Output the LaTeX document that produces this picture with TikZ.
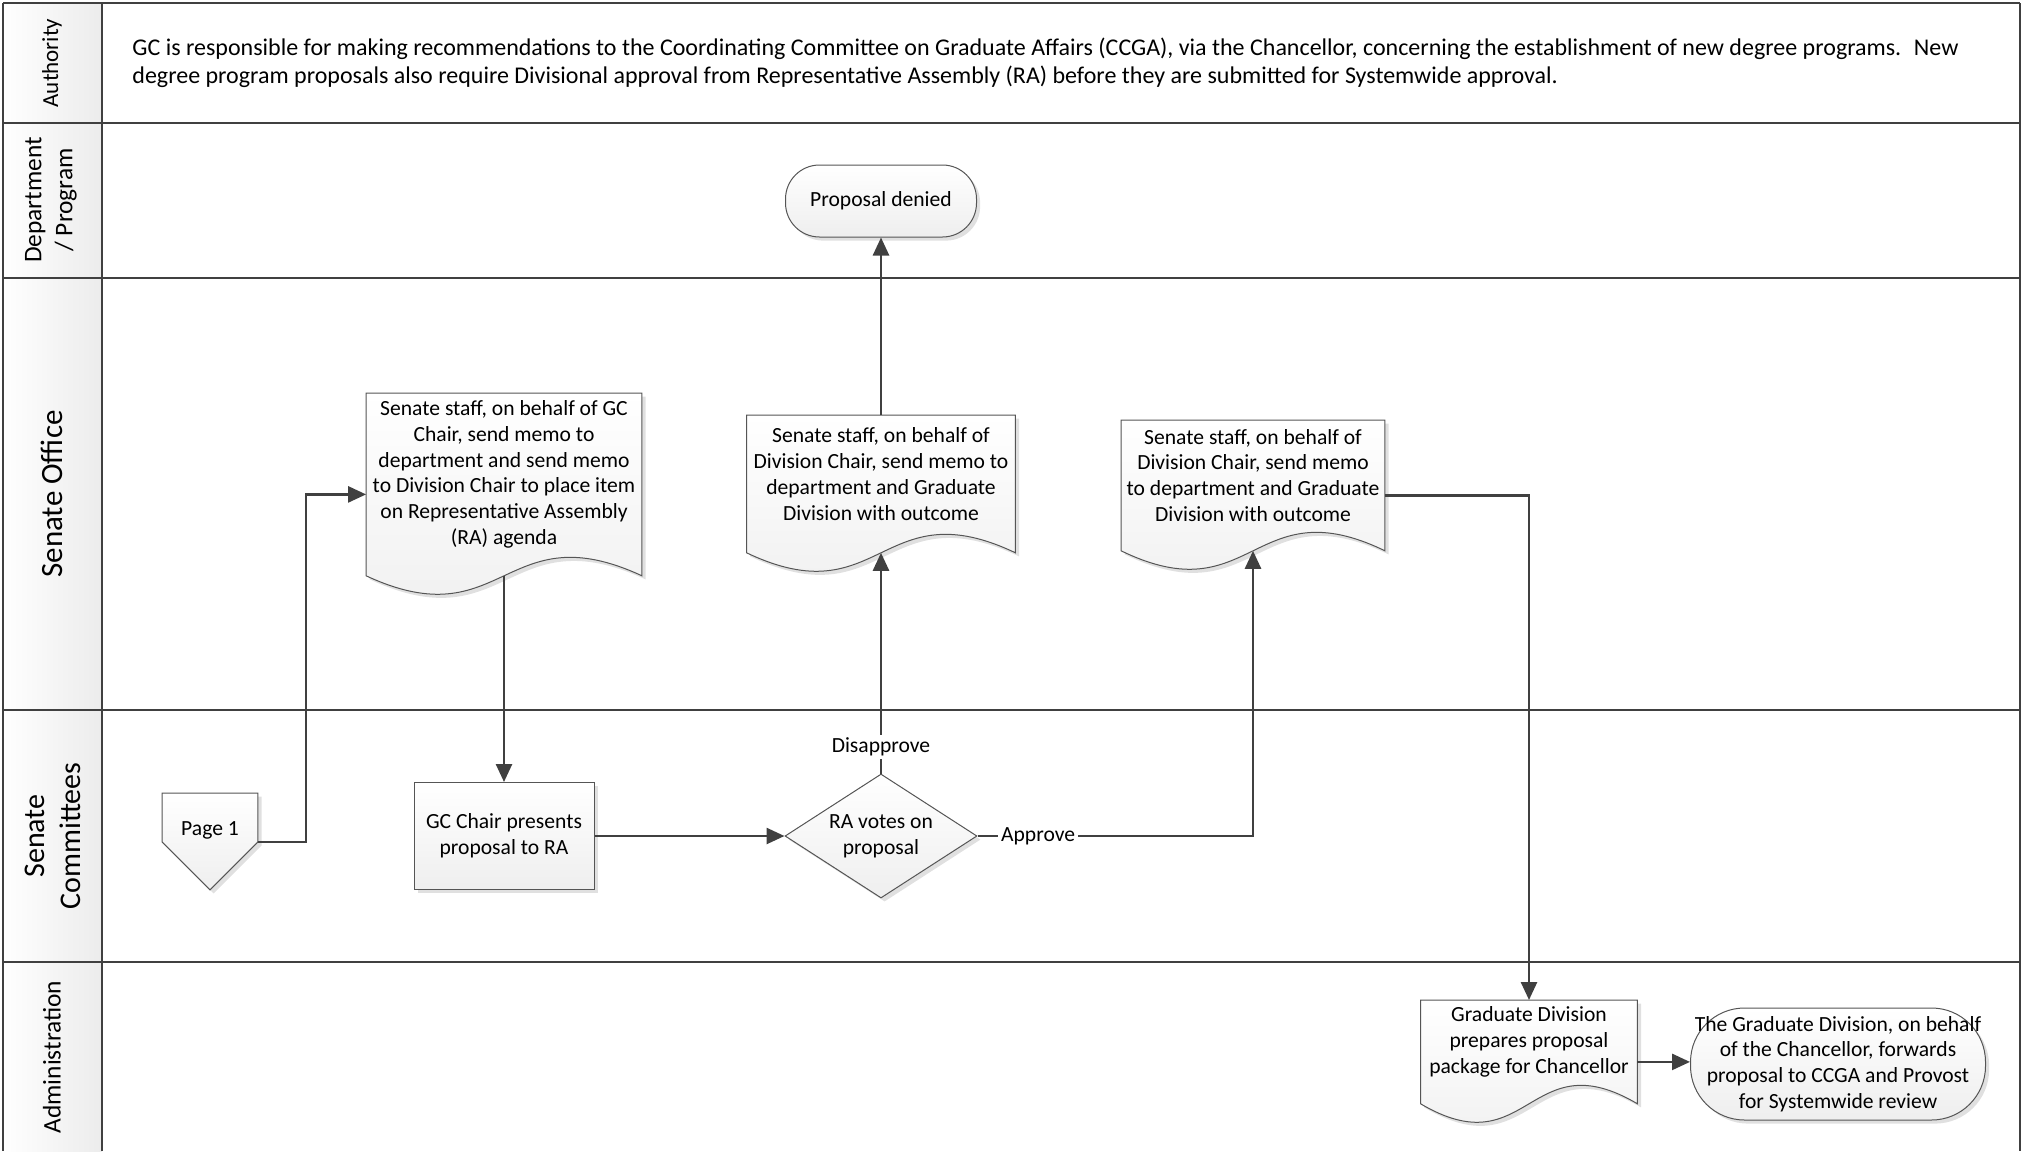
\documentclass[tikz,border=0pt]{standalone}
\usepackage{fontspec}
\setmainfont{Carlito}
\usetikzlibrary{positioning,shapes.geometric,arrows.meta,shadows,calc,backgrounds}

\definecolor{lanegray}{RGB}{64,64,64}
\definecolor{edgegray}{RGB}{85,85,85}

% wavy outline of a document node
\newcommand{\docoutline}[1]{%
  (#1.north west) -- ([yshift=-10pt]#1.south west)
  .. controls ($([yshift=-10pt]#1.south)+(0,-32pt)$) and ($([yshift=-10pt]#1.south)+(0,32pt)$) ..
  ([yshift=-10pt]#1.south east) -- (#1.north east) -- cycle}
\newcommand{\docshape}[1]{%
  \begin{pgfonlayer}{background}
    \path[box] \docoutline{#1};
  \end{pgfonlayer}
  \coordinate (#1-s) at ([yshift=-10pt]#1.south);
  \coordinate (#1-w) at ($(#1.north west)!0.5!([yshift=-20pt]#1.south west)$);
  \coordinate (#1-e) at ($(#1.north east)!0.5!([yshift=-20pt]#1.south east)$);}

\begin{document}
\begin{tikzpicture}[x=0.5pt,y=-0.5pt,
  every node/.style={font=\fontsize{10.8}{12.9}\selectfont},
  lane/.style={draw=lanegray, line width=1.2pt},
  lanelabel/.style={rotate=90, align=center, inner sep=0pt},
  box/.style={draw=edgegray, line width=0.5pt, top color=white, bottom color=gray!13,
    drop shadow={shadow xshift=1.8pt, shadow yshift=-1.8pt, fill=gray!40, opacity=0.6}},
  procbox/.style={box, rectangle, align=center, minimum width=90pt, minimum height=53.5pt},
  termbox/.style={box, rectangle, align=center},
  decbox/.style={box, diamond, aspect=1.55, align=center, inner sep=0pt, minimum width=96pt, minimum height=62pt},
  docnode/.style={rectangle, align=center, inner sep=1pt},
  flow/.style={draw=lanegray, line width=1.3pt, -{Triangle[length=9pt,width=8pt]}},
  flowlabel/.style={fill=white, inner sep=1.5pt}]
\useasboundingbox (0,0) rectangle (2023,1151);

% swimlanes
\fill[left color=white, right color=gray!15] (3,3) rectangle (102,1151);
\foreach \y in {3,123,278,710,962}
  \draw[lane] (3,\y) -- (2020,\y);
\foreach \x in {3,102,2020}
  \draw[lane] (\x,3) -- (\x,1151);

\node[lanelabel, font=\fontsize{11.5}{14}\selectfont] (authority) at (52,63) {Authority};
\node[lanelabel, font=\fontsize{12.7}{15.5}\selectfont] (dept) at (51,200) {Department\\/ Program};
\node[lanelabel, font=\fontsize{15.5}{18}\selectfont] (office) at (52,494) {Senate Office};
\node[lanelabel, font=\fontsize{15}{18}\selectfont] (committees) at (53,836) {Senate\\Committees};
\node[lanelabel, font=\fontsize{12.7}{15.5}\selectfont] (admin) at (52,1057) {Administration};

\node[anchor=west, align=left, inner sep=0pt, font=\fontsize{12}{14}\selectfont] (authtext) at (132,63)
  {GC is responsible for making recommendations to the Coordinating Committee on Graduate Affairs (CCGA), via the Chancellor, concerning the establishment of new degree programs.~ New\\
   degree program proposals also require Divisional approval from Representative Assembly (RA) before they are submitted for Systemwide approval.};

% steps
\node[termbox, minimum width=95.5pt, minimum height=36pt, rounded corners=17pt] (denied) at (881,201) {Proposal denied};

\node[docnode, anchor=north, minimum width=137.5pt, minimum height=81pt] (memo) at (504,393)
  {Senate staff, on behalf of GC\\Chair, send memo to\\department and send memo\\to Division Chair to place item\\on Representative Assembly\\(RA) agenda};
\docshape{memo}
\node[docnode, anchor=north, minimum width=134pt, minimum height=58.5pt] (deny) at (881,415)
  {Senate staff, on behalf of\\Division Chair, send memo to\\department and Graduate\\Division with outcome};
\docshape{deny}
\node[docnode, anchor=north, minimum width=131.5pt, minimum height=55pt] (approve) at (1253,420)
  {Senate staff, on behalf of\\Division Chair, send memo\\to department and Graduate\\Division with outcome};
\docshape{approve}

\node[rectangle, minimum width=47.5pt, minimum height=37pt, anchor=north] (page) at (210,793) {Page 1};
\begin{pgfonlayer}{background}
  \path[box] (page.north west) -- ([yshift=-24.5pt]page.north west) -- ([yshift=-11pt]page.south)
    -- ([yshift=-24.5pt]page.north east) -- (page.north east) -- cycle;
\end{pgfonlayer}
\coordinate (pageout) at ([yshift=-24.5pt]page.north east);

\node[procbox] (present) at (504,836) {GC Chair presents\\proposal to RA};
\node[decbox] (vote) at (881,836) {RA votes on\\proposal};

\node[docnode, anchor=north, minimum width=108pt, minimum height=41.5pt] (package) at (1529,1000)
  {Graduate Division\\prepares proposal\\package for Chancellor};
\docshape{package}
\node[termbox, minimum width=147.5pt, minimum height=56pt, rounded corners=27pt, inner sep=0pt] (forward) at (1838,1064)
  {The Graduate Division, on behalf\\of the Chancellor, forwards\\proposal to CCGA and Provost\\for Systemwide review};

% connectors
\draw[flow] (pageout) -- ++(48,0) |- (memo-w);
\draw[flow] (memo-s) -- (present.north);
\draw[flow] (present.east) -- (vote.west);
\draw[flow] (vote.north) -- (deny-s) node[flowlabel, pos=0.12] {Disapprove};
\draw[flow] (deny.north) -- (denied.south);
\draw[flow] (vote.east) -| (approve-s) node[flowlabel, pos=0.11] {Approve};
\draw[flow] (approve-e) -| (package.north);
\draw[flow] (package-e) -- (package-e -| forward.west);
\end{tikzpicture}
\end{document}
